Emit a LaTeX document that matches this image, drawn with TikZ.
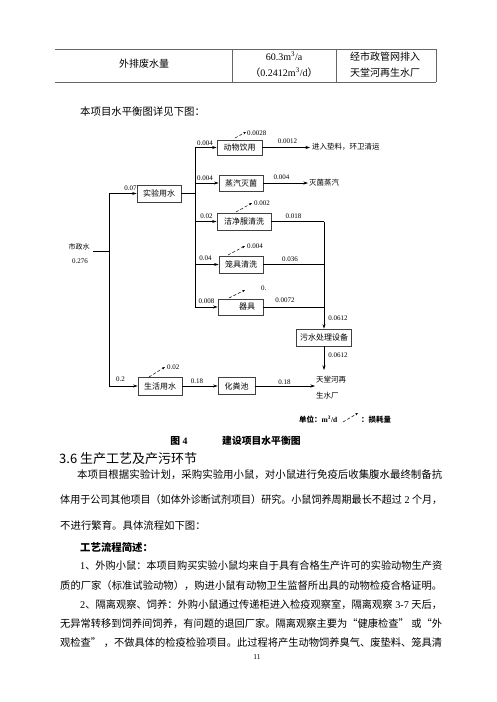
\documentclass[tikz,border=0pt]{standalone}
\usepackage{fontspec}
\usepackage{graphicx}
\setmainfont{Liberation Serif}
\newfontfamily\cjk{Noto Sans CJK SC}
\usetikzlibrary{arrows.meta}
% automatic switch to the CJK font for Chinese characters
\chardef\cjkcls=101
\newcount\cjkc
\def\cjkrange#1#2{\cjkc=#1 \loop\XeTeXcharclass\cjkc=\cjkcls \advance\cjkc by 1 \ifnum\cjkc<#2 \repeat}
\cjkrange{"3000}{"3040}
\cjkrange{"4E00}{"A000}
\cjkrange{"FF00}{"FFF0}
\XeTeXcharclass"201C=\cjkcls
\XeTeXcharclass"201D=\cjkcls
\XeTeXinterchartoks 0 \cjkcls = {\begingroup\cjk}
\XeTeXinterchartoks 4095 \cjkcls = {\begingroup\cjk}
\XeTeXinterchartoks \cjkcls 0 = {\endgroup}
\XeTeXinterchartoks \cjkcls 4095 = {\endgroup}
\XeTeXinterchartokenstate=1
\tikzset{
  box/.style={draw=black!75, line width=0.7pt, inner sep=0pt, font=\fontsize{8}{9}\selectfont},
  lbl/.style={font=\fontsize{7}{8}\selectfont, inner sep=0pt},
  lblw/.style={lbl, anchor=west},
  side/.style={font=\fontsize{7.5}{9}\selectfont, inner sep=0pt, anchor=west},
  flow/.style={line width=0.6pt, -{Stealth[length=4.5pt,width=3pt]}},
  wire/.style={line width=0.6pt},
  loss/.style={line width=0.5pt, densely dashed, -{Stealth[length=3pt,width=2.2pt]}},
  tline/.style={line width=0.6pt, draw=black!60},
  tcell/.style={font=\fontsize{10}{12}\selectfont, inner sep=0pt},
  body/.style={font=\fontsize{10.4}{12}\selectfont, inner sep=0pt, anchor=west},
}
\begin{document}
\begin{tikzpicture}[x=1pt,y=-1pt]
\useasboundingbox (0,0) rectangle (497,702);
\fill[white] (0,0) rectangle (497,702);

% ---------- table ----------
\draw[tline] (55,49) -- (436,49);
\draw[tline] (55,82) -- (436,82);
\draw[tline] (232,49) -- (232,82);
\draw[tline] (336,49) -- (336,82);
\draw[tline] (436,49) -- (436,82);
\node[tcell] (t1) at (144,64) {外排废水量};
\node[tcell] (t2) at (284,56.5) {60.3m\textsuperscript{3}/a};
\node[tcell] (t3) at (284,72.5) {（0.2412m\textsuperscript{3}/d）};
\node[tcell] (t4) at (385,56.5) {经市政管网排入};
\node[tcell] (t5) at (385,72.5) {天堂河再生水厂};

\node[body] (intro) at (80,112) {本项目水平衡图详见下图：};

% ---------- boxes ----------
\node[box, minimum width=44, minimum height=17] (syys) at (159,193.5) {实验用水};
\node[box, minimum width=45, minimum height=15] (dwyy) at (239.5,147.5) {动物饮用};
\node[box, minimum width=44, minimum height=16] (zqmj) at (241,183) {蒸汽灭菌};
\node[box, minimum width=54, minimum height=17] (jjf) at (244,221.5) {洁净服清洗};
\node[box, minimum width=44, minimum height=17] (ljqx) at (241,264.5) {笼具清洗};
\node[box, minimum width=45, minimum height=16] (qj) at (240.5,307) {};
\node[box, draw=none] (qjt) at (247,307) {器具};
\node[box, minimum width=55, minimum height=17] (wscl) at (324,337.5) {污水处理设备};
\node[box, minimum width=44, minimum height=18] (shys) at (160,386) {生活用水};
\node[box, minimum width=37, minimum height=17] (hfc) at (236.5,386) {化粪池};

% ---------- coordinates ----------
\coordinate (szsOut) at (93,251.7);
\coordinate (szsIn) at (109,251.7);
\coordinate (mTop) at (109,193.5);
\coordinate (mBot) at (109,386);
\coordinate (dS) at (195,193.5);
\coordinate (d1) at (195,147.5);
\coordinate (d2) at (195,183);
\coordinate (d3) at (195,221.5);
\coordinate (d4) at (195,264.5);
\coordinate (d5) at (195,307);
\coordinate (c3) at (324,221.5);
\coordinate (c4) at (324,264.5);
\coordinate (c5) at (324,307);
\coordinate (e1) at (310,147.5);
\coordinate (e2) at (308,183);
\coordinate (e3) at (315,386);
\coordinate (tth) at (324,370);

% ---------- connectors ----------
\draw[wire] (szsOut) -- (szsIn);
\draw[wire] (mTop) -- (mBot);
\draw[flow] (mTop) -- (syys.west);
\draw[flow] (mBot) -- (shys.west);
\draw[wire] (syys.east) -- (dS);
\draw[wire] (d1) -- (d5);
\draw[flow] (d1) -- (dwyy.west);
\draw[flow] (d2) -- (zqmj.west);
\draw[flow] (d3) -- (jjf.west);
\draw[flow] (d4) -- (ljqx.west);
\draw[flow] (d5) -- (qj.west);
\draw[flow] (dwyy.east) -- (e1);
\draw[flow] (zqmj.east) -- (e2);
\draw[wire] (jjf.east) -- (c3);
\draw[wire] (ljqx.east) -- (c4);
\draw[wire] (qj.east) -- (c5);
\draw[flow] (c3) -- (wscl.north);
\draw[flow] (wscl.south) -- (tth);
\draw[flow] (shys.east) -- (hfc.west);
\draw[flow] (hfc.east) -- (e3);

% ---------- loss arrows ----------
\coordinate (la1) at (235,138); \coordinate (lb1) at (246,132);
\coordinate (la2) at (236,212); \coordinate (lb2) at (252,203);
\coordinate (la3) at (228,255); \coordinate (lb3) at (245,246);
\coordinate (la4) at (229,298); \coordinate (lb4) at (245,290);
\coordinate (la5) at (149,377); \coordinate (lb5) at (165,367);
\coordinate (la6) at (343,422); \coordinate (lb6) at (358,413);
\draw[loss] (la1) -- (lb1);
\draw[loss] (la2) -- (lb2);
\draw[loss] (la3) -- (lb3);
\draw[loss] (la4) -- (lb4);
\draw[loss] (la5) -- (lb5);
\draw[loss] (la6) -- (lb6);

% ---------- labels ----------
\node[lbl] (szs) at (79,247) {市政水};
\node[lbl] (szsv) at (80,261) {0.276};
\node[lbl] (v07) at (130.5,188) {0.07};
\node[lbl] (v02) at (120.5,379.5) {0.2};
\node[lbl] (v004a) at (205,143) {0.004};
\node[lbl] (v004b) at (205,178) {0.004};
\node[lbl] (v002i) at (206.5,216.5) {0.02};
\node[lbl] (v04) at (205.5,258.5) {0.04};
\node[lbl] (v008) at (206.5,301.5) {0.008};
\node[lbl] (v0012) at (287.5,141.5) {0.0012};
\node[lbl] (v004c) at (281.5,177.5) {0.004};
\node[lbl] (v018) at (293.5,216) {0.018};
\node[lbl] (v036) at (290,259) {0.036};
\node[lbl] (v0072) at (285,300.5) {0.0072};
\node[lbl] (v0612a) at (338,318) {0.0612};
\node[lbl] (v0612b) at (338,355) {0.0612};
\node[lbl] (v18a) at (197,381.5) {0.18};
\node[lbl] (v18b) at (284.5,382) {0.18};
\node[lblw] (s1) at (247,133) {0.0028};
\node[lblw] (s2) at (254,203.5) {0.002};
\node[lblw] (s3) at (247,246) {0.004};
\node[lblw] (s4) at (261,288) {0.};
\node[lblw] (s5) at (167,367) {0.02};
\node[side] (o1) at (312,147) {进入垫料，环卫清运};
\node[side] (o2) at (309,183) {灭菌蒸汽};
\node[side] (o3) at (316,379.5) {天堂河再};
\node[side] (o4) at (316,396) {生水厂};
\node[side, font=\fontsize{7.5}{9}\selectfont\bfseries] (unit) at (299,419.5) {单位：m\textsuperscript{3}/d};
\node[side, font=\fontsize{7.5}{9}\selectfont\bfseries] (unit2) at (361,419.5) {：损耗量};

% ---------- caption and text ----------
\node[font=\fontsize{9.8}{11}\selectfont\bfseries, inner sep=0pt] (cap1) at (179,440.5) {图 4};
\node[font=\fontsize{9.8}{11}\selectfont\bfseries, inner sep=0pt, anchor=west] (cap2) at (222,440.5) {建设项目水平衡图};
\node[font=\fontsize{13}{15}\selectfont\cjk, inner sep=0pt, anchor=west] (head) at (59,458.5) {3.6 生产工艺及产污环节};
\node[body] (p1) at (77,475) {\resizebox{365pt}{\height}{本项目根据实验计划，采购实验用小鼠，对小鼠进行免疫后收集腹水最终制备抗}};
\node[body] (p2) at (60,500) {\resizebox{382pt}{\height}{体用于公司其他项目（如体外诊断试剂项目）研究。小鼠饲养周期最长不超过 2 个月，}};
\node[body] (p3) at (60,525.5) {不进行繁育。具体流程如下图：};
\node[body, font=\fontsize{10.4}{12}\selectfont\bfseries] (p4) at (80,547.5) {工艺流程简述：};
\node[body] (p5) at (80,566) {\resizebox{362pt}{\height}{1、外购小鼠：本项目购买实验小鼠均来自于具有合格生产许可的实验动物生产资}};
\node[body] (p6) at (60,586) {\resizebox{382pt}{\height}{质的厂家（标准试验动物），购进小鼠有动物卫生监督所出具的动物检疫合格证明。}};
\node[body] (p7) at (80,605) {\resizebox{362pt}{\height}{2、隔离观察、饲养：外购小鼠通过传递柜进入检疫观察室，隔离观察 3-7 天后，}};
\node[body] (p8) at (60,624) {\resizebox{382pt}{\height}{无异常转移到饲养间饲养，有问题的退回厂家。隔离观察主要为“健康检查” 或“外}};
\node[body] (p9) at (60,643) {\resizebox{382pt}{\height}{观检查” ，不做具体的检疫检验项目。此过程将产生动物饲养臭气、废垫料、笼具清}};
\node[font=\fontsize{7.5}{9}\selectfont, inner sep=0pt] (pg) at (257,657) {11};
\end{tikzpicture}
\end{document}
